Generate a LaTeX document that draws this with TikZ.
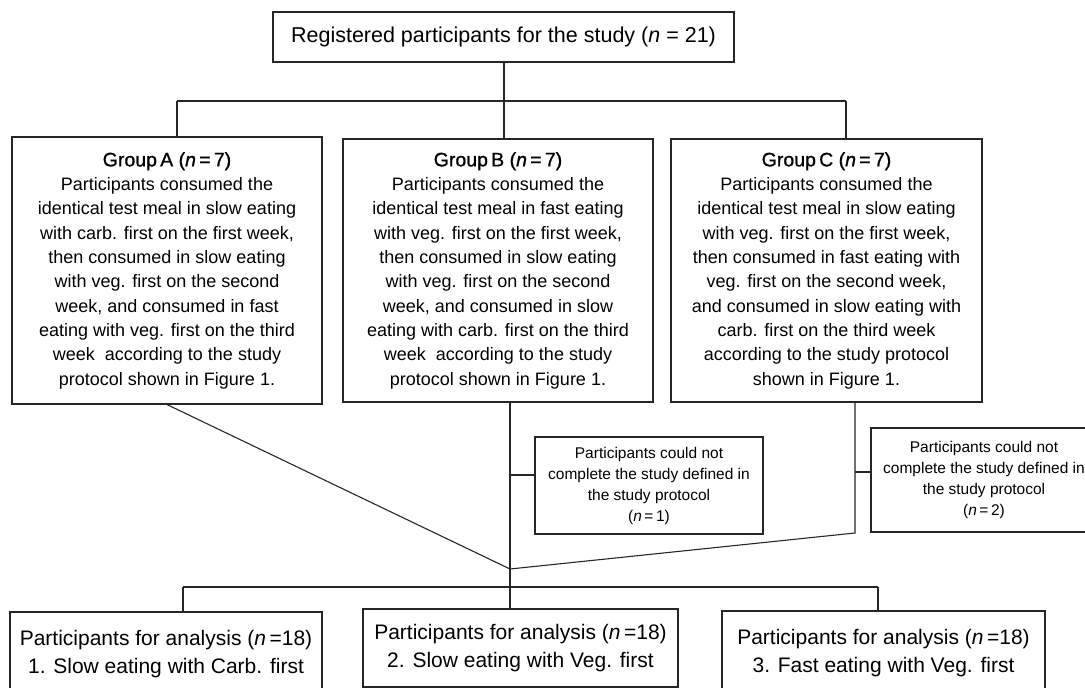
\documentclass[tikz,border=0pt]{standalone}
\usepackage{fontspec}
\setmainfont{Liberation Sans}
\newfontfamily\semib[FakeBold=1]{Liberation Sans}
\newcommand{\gtitle}[2]{{\fontsize{19.5}{24.3}\selectfont\semib Group\,#1 (\textit{n}\,=\,#2)}}
\begin{document}
\begin{tikzpicture}[x=1pt,y=-1pt,
  box/.style={draw=black!85, line width=1.1pt, inner sep=0pt, align=center},
  ln/.style={draw=black!85, line width=1.1pt},
  topf/.style={font=\fontsize{21.5}{25}\selectfont},
  grpf/.style={font=\fontsize{18}{24.3}\selectfont},
  sidef/.style={font=\fontsize{15.5}{21}\selectfont},
  botf/.style={font=\fontsize{21}{28}\selectfont}]
\useasboundingbox (0,0) rectangle (1085,688);
% boxes
\node[box,topf,minimum width=461pt,minimum height=50pt] (top) at (503.5,37)
  {Registered participants for the study (\textit{n} = 21)};
\node[box,grpf,minimum width=310pt,minimum height=267pt] (A) at (167,270.5)
  {\gtitle{A}{7}\\Participants consumed the\\identical test meal in slow eating\\with carb. first on the first week,\\then consumed in slow eating\\with veg. first on the second\\week, and consumed in fast\\eating with veg. first on the third\\week\ \ according to the study\\protocol shown in Figure 1.};
\node[box,grpf,minimum width=310pt,minimum height=263pt] (B) at (498,270.5)
  {\gtitle{B}{7}\\Participants consumed the\\identical test meal in fast eating\\with veg. first on the first week,\\then consumed in slow eating\\with veg. first on the second\\week, and consumed in slow\\eating with carb. first on the third\\week\ \ according to the study\\protocol shown in Figure 1.};
\node[box,grpf,minimum width=311pt,minimum height=263pt] (C) at (826.5,270.5)
  {\gtitle{C}{7}\\Participants consumed the\\identical test meal in slow eating\\with veg. first on the first week,\\then consumed in fast eating with\\veg. first on the second week,\\and consumed in slow eating with\\carb. first on the third week\\according to the study protocol\\shown in Figure 1.};
\node[box,sidef,minimum width=228pt,minimum height=97pt] (s1) at (649,485.5)
  {Participants could not\\complete the study defined in\\the study protocol\\(\textit{n}\,=\,1)};
\node[box,sidef,minimum width=226pt,minimum height=104pt] (s2) at (984,480)
  {Participants could not\\complete the study defined in\\the study protocol\\(\textit{n}\,=\,2)};
\node[box,botf,minimum width=312pt,minimum height=84pt] (b1) at (166,654)
  {Participants for analysis (\textit{n}\,=18)\\1. Slow eating with Carb. first};
\node[box,botf,minimum width=315pt,minimum height=78pt] (b2) at (520.5,648)
  {Participants for analysis (\textit{n}\,=18)\\2. Slow eating with Veg. first};
\node[box,botf,minimum width=323pt,minimum height=84pt] (b3) at (883.5,653)
  {Participants for analysis (\textit{n}\,=18)\\3. Fast eating with Veg. first};
% junction coordinates
\coordinate (jt) at (504,101);
\coordinate (ja) at (177,101);
\coordinate (jc) at (846,101);
\coordinate (m) at (510,569);
\coordinate (cd) at (855,533);
\coordinate (q1) at (510,475);
\coordinate (q2) at (855,472);
\coordinate (jl) at (183,587);
\coordinate (jr) at (878,587);
% connectors
\draw[ln] (top.south -| jt) -- (jt);
\draw[ln] (ja) -- (jc);
\draw[ln] (ja) -- (A.north -| ja);
\draw[ln] (jt) -- (B.north -| jt);
\draw[ln] (jc) -- (C.north -| jc);
\draw[ln] (A.south) -- (m);
\draw[ln] (B.south -| m) -- (b2.north -| m);
\draw[ln] (C.south -| cd) -- (cd) -- (m);
\draw[ln] (q1) -- (s1.west |- q1);
\draw[ln] (q2) -- (s2.west |- q2);
\draw[ln] (jl) -- (jr);
\draw[ln] (jl) -- (b1.north -| jl);
\draw[ln] (jr) -- (b3.north -| jr);
\end{tikzpicture}
\end{document}
